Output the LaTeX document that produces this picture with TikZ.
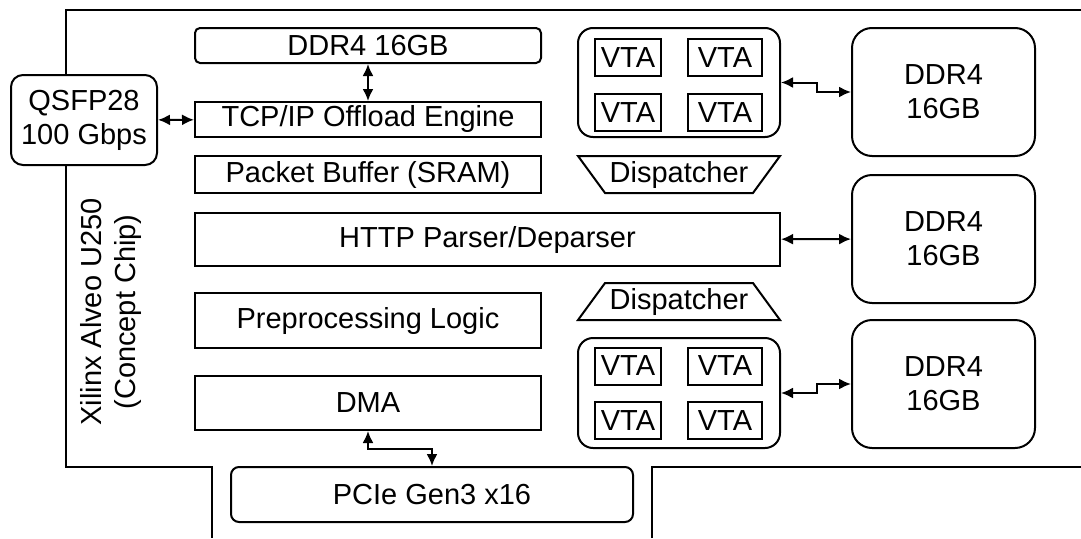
\documentclass[tikz,border=0pt]{standalone}
\usepackage{fontspec}
\setmainfont{Liberation Sans}
\usetikzlibrary{arrows.meta,shapes.geometric}
\begin{document}
\begin{tikzpicture}[x=1pt,y=-1pt,line width=2pt,
  every node/.style={font=\fontsize{29}{34}\selectfont,inner sep=0pt,align=center},
  unit/.style={draw,minimum width=346pt,minimum height=#1},
  mem/.style={draw,rounded corners=20pt,minimum width=183pt,minimum height=128pt},
  grp/.style={draw,rounded corners=15pt,minimum width=202pt,minimum height=#1},
  vta/.style={draw,minimum height=37pt},
  disp/.style={draw,trapezium,trapezium angle=45,trapezium stretches body=true,minimum width=202pt,minimum height=37pt},
  link/.style={{Latex[length=12pt,width=11pt]}-{Latex[length=12pt,width=11pt]}}]
\useasboundingbox (0,0) rectangle (1081,538);
\draw (1081,10) -- (66,10) -- (66,467) -- (212,467) -- (212,538);
\draw (652,538) -- (652,467) -- (1081,467);
\node[rotate=90] (chip) at (111,312) {Xilinx Alveo U250\\(Concept Chip)};
\node[draw,fill=white,rounded corners=12pt,minimum width=146pt,minimum height=90pt] (qsfp) at (84,120) {QSFP28\\100 Gbps};
\node[unit=35pt,rounded corners=5pt] (ddrtop) at (368,45.5) {DDR4 16GB};
\node[unit=35pt] (toe) at (368,119.5) {TCP/IP Offload Engine};
\node[unit=37pt] (buf) at (368,174.5) {Packet Buffer (SRAM)};
\node[unit=53pt,minimum width=585pt] (http) at (487.5,239.5) {HTTP Parser/Deparser};
\node[unit=55pt] (prep) at (368,320.5) {Preprocessing Logic};
\node[unit=54pt] (dma) at (368,403) {DMA};
\node[draw,rounded corners=8pt,minimum width=402pt,minimum height=55pt] (pcie) at (432,494.5) {PCIe Gen3 x16};
\node[grp=109pt] (grpa) at (679,82.5) {};
\node[vta,minimum width=66pt] (vtaa1) at (628,57.5) {VTA};
\node[vta,minimum width=74pt] (vtaa2) at (725,57.5) {VTA};
\node[vta,minimum width=66pt] (vtaa3) at (628,112.5) {VTA};
\node[vta,minimum width=74pt] (vtaa4) at (725,112.5) {VTA};
\node[disp,shape border rotate=180] (dispa) at (679,174.5) {\makebox[0pt]{Dispatcher}};
\node[disp] (dispb) at (679,301.5) {\makebox[0pt]{Dispatcher}};
\node[grp=110pt] (grpb) at (679,393) {};
\node[vta,minimum width=66pt] (vtab1) at (628,366) {VTA};
\node[vta,minimum width=74pt] (vtab2) at (725,366) {VTA};
\node[vta,minimum width=66pt] (vtab3) at (628,420.5) {VTA};
\node[vta,minimum width=74pt] (vtab4) at (725,420.5) {VTA};
\node[mem] (ddra) at (943.5,92) {DDR4\\16GB};
\node[mem] (ddrb) at (943.5,239) {DDR4\\16GB};
\node[mem] (ddrc) at (943.5,384) {DDR4\\16GB};
\draw[link] (ddrtop) -- (toe);
\draw[link] (qsfp) -- (toe);
\draw[link] (grpa.east) -- ++(36,0) |- (ddra.west);
\draw[link] (http) -- (ddrb);
\draw[link] (grpb.east) -- ++(36,0) |- (ddrc.west);
\draw[link] (dma.south) -- ++(0,18) -| (pcie.north);
\end{tikzpicture}
\end{document}
